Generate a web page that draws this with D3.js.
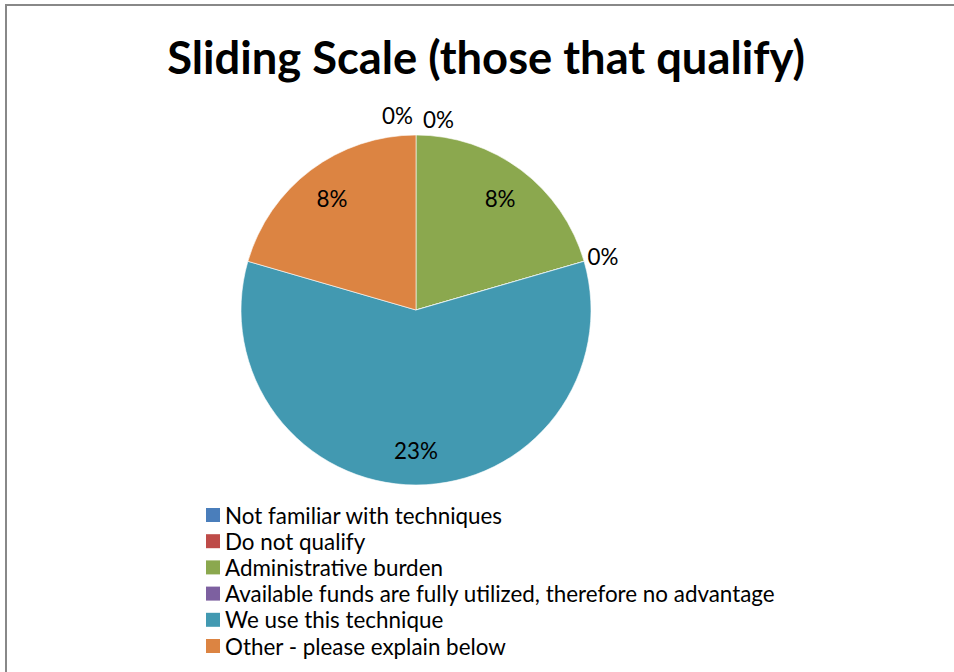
<!DOCTYPE html>
<html>
<head>
<meta charset="utf-8">
<script src="https://cdn.jsdelivr.net/npm/d3@7/dist/d3.min.js"></script>
<style>
  html, body { margin: 0; padding: 0; background: #fff; }
  svg { display: block; }
  text { font-family: Lato, "Open Sans", sans-serif; fill: #000; }
</style>
</head>
<body>
<svg id="chart" width="954" height="672"></svg>
<script>
// Survey responses: share of respondents per reason
const categories = [
  "Not familiar with techniques",
  "Do not qualify",
  "Administrative burden",
  "Available funds are fully utilized, therefore no advantage",
  "We use this technique",
  "Other - please explain below"
];
const values = [0, 0, 8, 0, 23, 8];
const valueLabels = ["0%", "0%", "8%", "0%", "23%", "8%"];
const colors = ["#4a7ebb", "#be4b48", "#8ba84e", "#7d60a0", "#4299b1", "#dc8442"];
const title = "Sliding Scale (those that qualify)";

const W = 954, H = 672;
const cx = 416, cy = 310, R = 175;
const labelSize = 22.4;

const svg = d3.select("#chart");

// Frame: left and top rule
svg.append("path")
  .attr("d", `M6,${H} L6,5 L${W},5`)
  .attr("fill", "none")
  .attr("stroke", "#888")
  .attr("stroke-width", 2);

// Title
svg.append("text")
  .attr("x", 486)
  .attr("y", 74)
  .attr("text-anchor", "middle")
  .attr("font-size", 45.3)
  .attr("font-weight", "bold")
  .text(title);

const color = d3.scaleOrdinal().domain(categories).range(colors);

const pie = d3.pie().sort(null).value(d => d.value);
const data = categories.map((c, i) => ({ name: c, value: values[i], label: valueLabels[i] }));
const arcs = pie(data);

const arc = d3.arc().innerRadius(0).outerRadius(R);
const inner = d3.arc().innerRadius(R * 0.8).outerRadius(R * 0.8);

const g = svg.append("g").attr("transform", `translate(${cx},${cy})`);

g.selectAll("path.slice")
  .data(arcs)
  .join("path")
  .attr("class", "slice")
  .attr("d", arc)
  .attr("fill", d => color(d.data.name))
  .attr("stroke", "#fff")
  .attr("stroke-width", 0.6);

// Value labels: inside for non-empty slices, outside for empty ones
const seen = {};
g.selectAll("text.val")
  .data(arcs)
  .join("text")
  .attr("class", "val")
  .attr("font-size", labelSize)
  .attr("dominant-baseline", "central")
  .each(function(d) {
    const t = d3.select(this);
    if (d.value > 0) {
      const [x, y] = inner.centroid(d);
      t.attr("x", x).attr("y", y).attr("text-anchor", "middle");
    } else {
      const a = d.startAngle;
      const key = a.toFixed(4);
      const k = seen[key] = (seen[key] || 0) + 1;
      const rr = R + 12;
      let x = rr * Math.sin(a), y = -rr * Math.cos(a);
      if (Math.abs(Math.sin(a)) < 0.1) {
        // stacked labels at the top of the circle sit side by side
        if (k === 1) { t.attr("text-anchor", "end"); x -= 3; y -= 8; }
        else { t.attr("text-anchor", "start"); x += 7; y -= 4; }
      } else {
        t.attr("text-anchor", Math.sin(a) > 0 ? "start" : "end");
        x -= 8; y -= 1;
      }
      t.attr("x", x).attr("y", y);
    }
    t.text(d.data.label);
  });

// Legend
const legend = svg.append("g").attr("transform", "translate(206,515)");
const rowH = 26.2;
const rows = legend.selectAll("g")
  .data(categories)
  .join("g")
  .attr("transform", (d, i) => `translate(0,${i * rowH})`);
rows.append("rect")
  .attr("x", 0).attr("y", -7)
  .attr("width", 14).attr("height", 14)
  .attr("fill", d => color(d));
rows.append("text")
  .attr("x", 19)
  .attr("y", 0)
  .attr("dominant-baseline", "central")
  .attr("font-size", labelSize)
  .text(d => d);
</script>
</body>
</html>
